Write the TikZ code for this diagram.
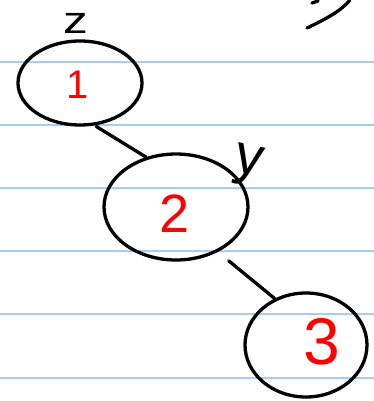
\documentclass[tikz,border=0pt]{standalone}
\usepackage{fontspec}
\newfontfamily\hand{Liberation Sans}
\usetikzlibrary{shapes.geometric}
\definecolor{ruled}{RGB}{168,204,245}
\begin{document}
\begin{tikzpicture}[x=1pt,y=-1pt,
  pen/.style={line width=3.3pt,line cap=round,line join=round},
  bubble/.style={ellipse,draw,pen,inner sep=0pt},
  digit/.style={text=red,inner sep=0pt},
  letter/.style={text=black,inner sep=0pt}]
\useasboundingbox (0,0) rectangle (374,401);
\foreach \yy in {62,125,188,251,314,378}
  \draw[ruled,line width=2pt] (0,\yy) -- (374,\yy);
\node[bubble,minimum width=124pt,minimum height=84pt] (n1) at (80,83) {};
\node[bubble,minimum width=144pt,minimum height=106pt] (n2) at (176,207) {};
\node[bubble,minimum width=122pt,minimum height=104pt] (n3) at (306,345) {};
\draw[pen,shorten <=2pt] (n1.-71) -- (n2.121);
\draw[pen,shorten <=14pt] (n2.-47) -- (n3.124);
\node[digit,font=\hand\fontsize{40}{40}\selectfont] (t1) at (78,85) {1};
\node[digit,font=\hand\fontsize{54}{54}\selectfont] (t2) at (175,214) {2};
\node[digit,font=\hand\fontsize{66}{66}\selectfont] (t3) at (322,342) {3};
\node[letter,font=\hand\fontsize{38}{38}\selectfont,xscale=1.3] (tz) at (76,23) {z};
\node[letter,font=\hand\fontsize{56}{56}\selectfont,rotate=-12] (ty) at (248,166) {y};
\coordinate (c1) at (307,28);
\coordinate (c2) at (350,0);
\draw[pen] (c1) .. controls (328,18) and (342,10) .. (c2);
\draw[pen] (312,3) -- (318,1);
\end{tikzpicture}
\end{document}
